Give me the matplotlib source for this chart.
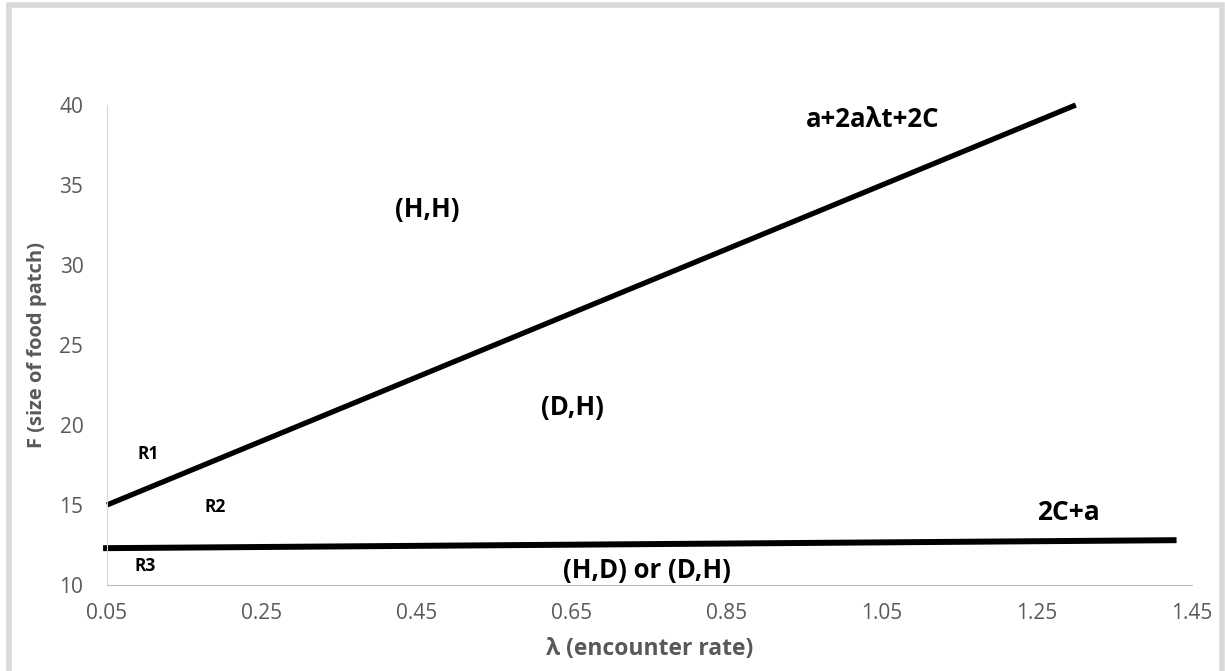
import matplotlib.pyplot as plt
from matplotlib.patches import Rectangle

plt.rcParams['font.family'] = ['Open Sans', 'DejaVu Sans']

# data
X_TICKS = [0.05, 0.25, 0.45, 0.65, 0.85, 1.05, 1.25, 1.45]
Y_TICKS = [10, 15, 20, 25, 30, 35, 40]
UPPER_X = [0.05, 1.30]          # a+2a*lambda*t+2C
UPPER_Y = [15.0, 40.0]
LOWER_X = [0.045, 1.43]         # 2C+a
LOWER_Y = [12.3, 12.8]
REGION_LABELS = [
    ("(H,H)", 0.463, 33.5, 18.5),
    ("(D,H)", 0.65, 21.1, 18.5),
    ("(H,D) or (D,H)", 0.747, 10.9, 18.5),
    ("a+2aλt+2C", 1.038, 39.1, 18.5),
    ("2C+a", 1.29, 14.5, 19),
    ("R1", 0.103, 18.2, 12.5),
    ("R2", 0.189, 14.9, 12.5),
    ("R3", 0.099, 11.2, 12.5),
]

GRAY = "#595959"

fig = plt.figure(figsize=(12.25, 6.71), dpi=100)
ax = fig.add_axes([0.0873, 0.1282, 0.8858, 0.7153])

ax.plot(UPPER_X, UPPER_Y, color="black", linewidth=3.8, solid_capstyle="butt", clip_on=False)
ax.plot(LOWER_X, LOWER_Y, color="black", linewidth=4.3, solid_capstyle="butt", clip_on=False)

for txt, x, y, size in REGION_LABELS:
    ax.text(x, y, txt, fontsize=size, fontweight="bold", ha="center", va="center", color="black")

ax.set_xlim(X_TICKS[0], X_TICKS[-1])
ax.set_ylim(Y_TICKS[0], Y_TICKS[-1])
ax.set_xticks(X_TICKS)
ax.set_xticklabels([f"{v:.2f}" for v in X_TICKS])
ax.set_yticks(Y_TICKS)
ax.tick_params(length=0, labelsize=15, labelcolor=GRAY)
ax.tick_params(axis="y", pad=17)
ax.tick_params(axis="x", pad=13)

for side in ["top", "right"]:
    ax.spines[side].set_visible(False)
ax.spines["left"].set_color("#d9d9d9")
ax.spines["bottom"].set_color("#bfbfbf")

ax.set_xlabel("λ (encounter rate)", fontsize=16.5, fontweight="bold", color=GRAY, labelpad=9)
ax.set_ylabel("F (size of food patch)", fontsize=14.5, fontweight="bold", color=GRAY, labelpad=9)

# outer frame, as in the spreadsheet chart area
fig.patches.append(Rectangle((0.0076, -0.01), 0.99, 1.003, transform=fig.transFigure,
                             fill=False, edgecolor="#d9d9d9", linewidth=4))

fig.savefig("out.png", dpi=100)
